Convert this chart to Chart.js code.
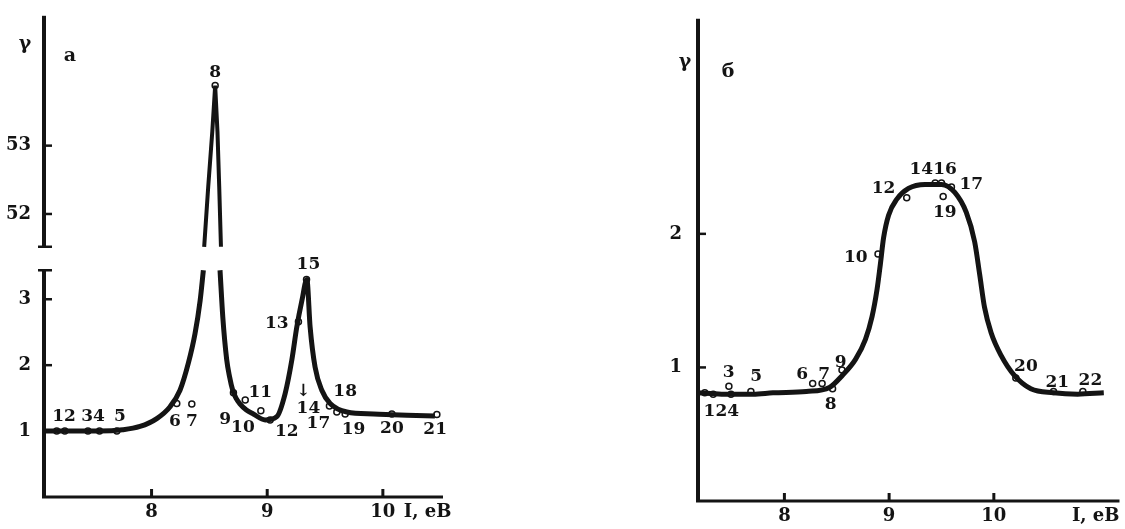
<!DOCTYPE html>
<html>
<head>
<meta charset="utf-8">
<script src="https://cdn.jsdelivr.net/npm/chart.js@4.4.0/dist/chart.umd.min.js"></script>
<style>
  html, body { margin: 0; padding: 0; background: #fff; }
  #wrapA { position: absolute; left: 0; top: 0; width: 480px; height: 529px; }
  #wrapB { position: absolute; left: 640px; top: 0; width: 485px; height: 529px; }
</style>
</head>
<body>
<div id="wrapA"><canvas id="chartA"></canvas></div>
<div id="wrapB"><canvas id="chartB"></canvas></div>
<script>
// ---- panel а : broken y axis ----
var aLeftX  = [7.07, 7.30, 7.55, 7.75, 7.90, 8.045, 8.16, 8.246, 8.318, 8.376, 8.42, 8.448];
var aLeftY  = [1.00, 1.00, 1.00, 1.02, 1.07, 1.19, 1.37, 1.62, 2.03, 2.48, 2.98, 3.44];
var aRightX = [8.592, 8.616, 8.65, 8.675, 8.70, 8.73, 8.766, 8.82, 8.88, 8.982, 9.083, 9.155, 9.213,
               9.256, 9.30, 9.343, 9.371, 9.414, 9.472, 9.544, 9.689, 9.92, 10.208, 10.45];
var aRightY = [3.44, 2.73, 2.08, 1.82, 1.63, 1.50, 1.41, 1.32, 1.26, 1.17, 1.22, 1.57, 2.08,
               2.58, 2.98, 3.30, 2.58, 1.97, 1.62, 1.42, 1.29, 1.26, 1.24, 1.23];
var aPeakX  = [8.455, 8.49, 8.525, 8.55, 8.57, 8.585, 8.60];
var aPeakY  = [51.52, 52.4, 53.2, 53.88, 53.2, 52.4, 51.52];
var aPtX = [7.18, 7.25, 7.45, 7.55, 7.70, 8.218, 8.348, 8.708, 8.81, 8.945, 9.025, 9.27, 9.34,
            9.538, 9.602, 9.674, 10.078, 10.467];
var aPtY = [1.0, 1.0, 1.0, 1.0, 1.0, 1.42, 1.41, 1.58, 1.47, 1.31, 1.17, 2.66, 3.30,
            1.38, 1.29, 1.26, 1.26, 1.25];
var aTopPtX = [8.55];
var aTopPtY = [53.88];
var aLowTicks = [1, 2, 3];
var aHighTicks = [52, 53];
var aLabels = [
  ['12', 7.243, 1.22, 'yLow'], ['34', 7.494, 1.22, 'yLow'], ['5', 7.727, 1.22, 'yLow'],
  ['6', 8.203, 1.14, 'yLow'], ['7', 8.348, 1.14, 'yLow'], ['9', 8.636, 1.18, 'yLow'],
  ['10', 8.79, 1.06, 'yLow'], ['11', 8.94, 1.58, 'yLow'], ['12', 9.17, 0.99, 'yLow'],
  ['13', 9.083, 2.63, 'yLow'], ['15', 9.356, 3.52, 'yLow'], ['\u2193', 9.313, 1.60, 'yLow'],
  ['14', 9.356, 1.34, 'yLow'], ['17', 9.443, 1.12, 'yLow'], ['18', 9.674, 1.60, 'yLow'],
  ['19', 9.746, 1.02, 'yLow'], ['20', 10.078, 1.04, 'yLow'], ['21', 10.452, 1.02, 'yLow'],
  ['8', 8.549, 54.07, 'yHigh']
];

// ---- panel б ----
var bCurveX = [7.175, 7.40, 7.70, 7.89, 8.21, 8.43, 8.553, 8.679, 8.774, 8.837, 8.884, 8.916, 8.947,
               8.995, 9.074, 9.185, 9.343, 9.50, 9.627, 9.737, 9.817, 9.864, 9.911, 9.974, 10.069,
               10.196, 10.353, 10.57, 10.80, 11.05];
var bCurveY = [0.81, 0.80, 0.80, 0.81, 0.82, 0.85, 0.94, 1.06, 1.21, 1.38, 1.58, 1.77, 1.97,
               2.14, 2.26, 2.34, 2.37, 2.37, 2.31, 2.16, 1.94, 1.70, 1.45, 1.26, 1.09,
               0.94, 0.84, 0.81, 0.80, 0.81];
var bPtX = [7.24, 7.32, 7.47, 7.49, 7.68, 8.27, 8.36, 8.46, 8.55, 8.894, 9.168, 9.44, 9.50,
            9.595, 9.516, 10.21, 10.57, 10.85];
var bPtY = [0.81, 0.80, 0.86, 0.80, 0.82, 0.88, 0.88, 0.84, 0.98, 1.85, 2.27, 2.38, 2.38,
            2.35, 2.28, 0.92, 0.82, 0.82];
var bTicks = [1, 2];
var bLabels = [
  ['124', 7.398, 0.67, 'y'], ['3', 7.469, 0.96, 'y'], ['5', 7.731, 0.93, 'y'],
  ['6', 8.17, 0.95, 'y'], ['7', 8.379, 0.95, 'y'], ['9', 8.537, 1.04, 'y'], ['8', 8.442, 0.72, 'y'],
  ['10', 8.682, 1.82, 'y'], ['12', 8.947, 2.34, 'y'], ['1416', 9.421, 2.48, 'y'],
  ['17', 9.784, 2.37, 'y'], ['19', 9.532, 2.16, 'y'], ['20', 10.306, 1.01, 'y'],
  ['21', 10.606, 0.89, 'y'], ['22', 10.922, 0.90, 'y']
];

var xTicks = [8, 9, 10];

var INK = '#141414';
var FONT = "'DejaVu Serif', 'Liberation Serif', serif";

Chart.defaults.font.family = FONT;
Chart.defaults.font.size = 18;
Chart.defaults.font.weight = 'bold';
Chart.defaults.color = INK;
Chart.defaults.animation = false;

function zip(xs, ys) {
  return xs.map(function (x, i) { return { x: x, y: ys[i] }; });
}

function fixedTicks(list) {
  return function (scale) {
    scale.ticks = list.map(function (v) { return { value: v }; });
  };
}

function line(ctx, x0, y0, x1, y1) {
  ctx.beginPath();
  ctx.moveTo(x0, y0);
  ctx.lineTo(x1, y1);
  ctx.stroke();
}

// hand-drawn looking axes: inner ticks, broken y axis with caps, point labels
var sketchPlugin = {
  id: 'sketch',
  afterDatasetsDraw: function (chart, args, opts) {
    var ctx = chart.ctx;
    var area = chart.chartArea;
    var xs = chart.scales.x;
    ctx.save();
    ctx.strokeStyle = INK;
    ctx.fillStyle = INK;

    ctx.lineWidth = 3;
    line(ctx, area.left - 2, area.bottom, area.right, area.bottom);
    xTicks.forEach(function (v) {
      var px = xs.getPixelForValue(v);
      line(ctx, px, area.bottom, px, area.bottom - 8);
    });

    opts.segments.forEach(function (seg) {
      var s = chart.scales[seg.scale];
      var y0 = s.getPixelForValue(seg.from);
      var y1 = seg.to == null ? area.top : s.getPixelForValue(seg.to);
      ctx.lineWidth = 4;
      line(ctx, area.left, y0, area.left, y1);
      ctx.lineWidth = 2.5;
      if (seg.cap != null) {
        var cy = s.getPixelForValue(seg.cap);
        line(ctx, area.left - 6, cy, area.left + 8, cy);
      }
      seg.ticks.forEach(function (v) {
        var py = s.getPixelForValue(v);
        line(ctx, area.left, py, area.left + 8, py);
      });
    });

    ctx.font = 'bold 17px ' + FONT;
    ctx.textAlign = 'center';
    ctx.textBaseline = 'middle';
    opts.labels.forEach(function (l) {
      var s = chart.scales[l[3]];
      ctx.fillText(l[0], xs.getPixelForValue(l[1]), s.getPixelForValue(l[2]));
    });

    ctx.font = 'bold 19px ' + FONT;
    ctx.fillText('\u03b3', area.left + opts.gamma[0], area.top + opts.gamma[1]);
    ctx.fillText(opts.panel, area.left + opts.panelAt[0], area.top + opts.panelAt[1]);
    ctx.font = 'bold 18px ' + FONT;
    ctx.textAlign = opts.unitAlign;
    var ux = opts.unitAlign === 'left' ? xs.getPixelForValue(10) + 21 : area.right;
    ctx.fillText('I, e\u0412', ux, area.bottom + 15);
    ctx.restore();
  }
};

function yScale(min, max, ticks, extra) {
  var cfg = {
    type: 'linear',
    position: 'left',
    min: min,
    max: max,
    grid: { display: false },
    border: { display: false },
    ticks: { padding: 5, color: INK },
    afterBuildTicks: fixedTicks(ticks)
  };
  for (var k in extra) cfg[k] = extra[k];
  return cfg;
}

function xScale(min, max, height) {
  return {
    type: 'linear',
    min: min,
    max: max,
    grid: { display: false },
    border: { display: false },
    ticks: { padding: -3, color: INK },
    afterBuildTicks: fixedTicks(xTicks),
    afterFit: function (s) { s.height = height; }
  };
}

function curveSet(data, axis, width, mode) {
  return {
    data: data, yAxisID: axis, borderColor: INK, borderWidth: width,
    pointRadius: 0, cubicInterpolationMode: mode, tension: mode ? 0.4 : 0, fill: false
  };
}

function pointSet(data, axis) {
  return {
    data: data, yAxisID: axis, showLine: false, pointRadius: 3,
    pointBackgroundColor: '#fff', pointBorderColor: INK, pointBorderWidth: 1.5
  };
}

new Chart(document.getElementById('chartA'), {
  type: 'line',
  data: {
    datasets: [
      curveSet(zip(aLeftX, aLeftY), 'yLow', 5, 'monotone'),
      curveSet(zip(aRightX, aRightY), 'yLow', 5, 'monotone'),
      curveSet(zip(aPeakX, aPeakY), 'yHigh', 4, null),
      pointSet(zip(aPtX, aPtY), 'yLow'),
      pointSet(zip(aTopPtX, aTopPtY), 'yHigh')
    ]
  },
  options: {
    responsive: true,
    maintainAspectRatio: false,
    layout: { padding: { top: 15, right: 37, left: 0, bottom: 0 } },
    plugins: {
      legend: { display: false },
      tooltip: { enabled: false },
      sketch: {
        segments: [
          { scale: 'yLow', from: 0, to: 3.44, cap: 3.44, ticks: aLowTicks },
          { scale: 'yHigh', from: 51.52, to: null, cap: 51.52, ticks: aHighTicks }
        ],
        labels: aLabels,
        gamma: [-19, 28],
        panel: '\u0430',
        panelAt: [26, 40],
        unitAlign: 'left'
      }
    },
    scales: {
      x: xScale(7.07, 10.52, 32),
      yLow: yScale(0, 3.62, aLowTicks, {
        stack: 'a', stackWeight: 239, weight: 0,
        afterFit: function (s) { s.width = 44; }
      }),
      yHigh: yScale(51.35, 54.9, aHighTicks, {
        stack: 'a', stackWeight: 243, weight: 1,
        afterFit: function (s) { s.width = 44; }
      })
    }
  },
  plugins: [sketchPlugin]
});

new Chart(document.getElementById('chartB'), {
  type: 'line',
  data: {
    datasets: [
      curveSet(zip(bCurveX, bCurveY), 'y', 5, 'monotone'),
      pointSet(zip(bPtX, bPtY), 'y')
    ]
  },
  options: {
    responsive: true,
    maintainAspectRatio: false,
    layout: { padding: { top: 10, right: 2, left: 0, bottom: 0 } },
    plugins: {
      legend: { display: false },
      tooltip: { enabled: false },
      sketch: {
        segments: [{ scale: 'y', from: 0, to: null, cap: null, ticks: bTicks }],
        labels: bLabels,
        gamma: [-13, 43],
        panel: '\u0431',
        panelAt: [30, 53],
        unitAlign: 'right'
      }
    },
    scales: {
      x: xScale(7.175, 11.2, 28),
      y: yScale(0, 3.61, bTicks, {
        ticks: { padding: 8, color: INK },
        afterFit: function (s) { s.width = 58; }
      })
    }
  },
  plugins: [sketchPlugin]
});
</script>
</body>
</html>
